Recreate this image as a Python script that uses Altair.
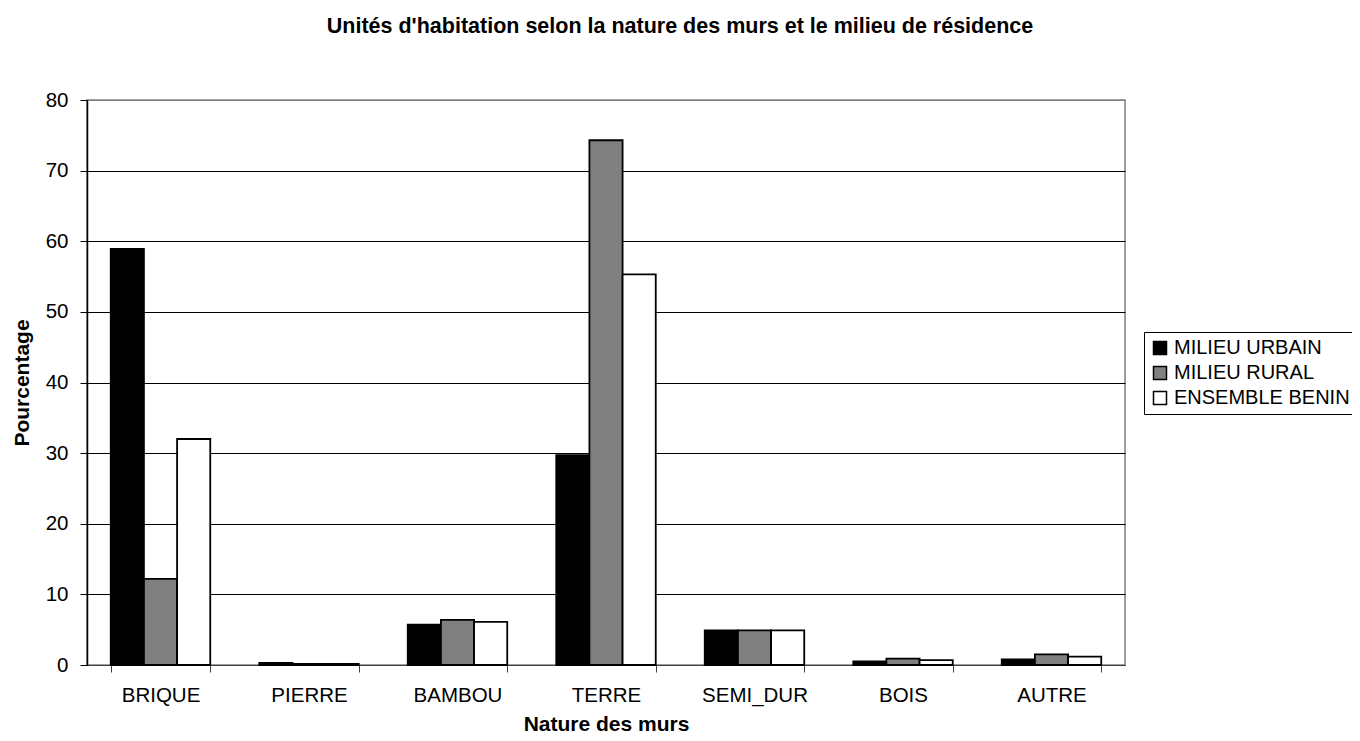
import altair as alt
import pandas as pd

categories = ["BRIQUE", "PIERRE", "BAMBOU", "TERRE", "SEMI_DUR", "BOIS", "AUTRE"]
series = ["MILIEU URBAIN", "MILIEU RURAL", "ENSEMBLE BENIN"]
urbain = [58.9, 0.3, 5.7, 29.7, 4.9, 0.5, 0.8]
rural = [12.2, 0.15, 6.4, 74.3, 4.9, 0.9, 1.5]
ensemble = [32.0, 0.15, 6.1, 55.3, 4.9, 0.7, 1.2]
colors = ["#000000", "#808080", "#ffffff"]
y_ticks = [0, 10, 20, 30, 40, 50, 60, 70, 80]

rows = []
for s, vals in zip(series, [urbain, rural, ensemble]):
    for c, v in zip(categories, vals):
        rows.append({"nature": c, "milieu": s, "pct": v})
df = pd.DataFrame(rows)

FONT = "Liberation Sans"

chart = alt.Chart(df).mark_bar(stroke="black", strokeWidth=1.8).encode(
    x=alt.X(
        "nature:N", sort=categories,
        scale=alt.Scale(paddingInner=0.33, paddingOuter=0.16),
        axis=alt.Axis(
            title="Nature des murs", labelAngle=0, tickBand="extent",
            labelFont=FONT, labelFontSize=20.5, labelColor="black", labelPadding=13,
            tickSize=7, tickColor="#404040", domainColor="#404040", domainWidth=1,
            titleFont=FONT, titleFontSize=21, titleFontWeight="bold", titleColor="black",
            titleY=65, titleBaseline="alphabetic", titleX=519,
        ),
    ),
    xOffset=alt.XOffset("milieu:N", sort=series, scale=alt.Scale(paddingInner=0, paddingOuter=0)),
    y=alt.Y(
        "pct:Q",
        scale=alt.Scale(domain=[0, 80], nice=False),
        axis=alt.Axis(
            title="Pourcentage", values=y_ticks, grid=True,
            gridColor=alt.condition("datum.value == 80", alt.value("#808080"), alt.value("black")),
            gridWidth=1,
            labelFont=FONT, labelFontSize=20.5, labelColor="black", labelPadding=12,
            tickSize=7, tickColor="black", domainColor="black", domainWidth=1.5,
            titleFont=FONT, titleFontSize=21, titleFontWeight="bold", titleColor="black",
            titleX=-59, titleY=282.5, titleBaseline="alphabetic", titleAngle=270,
        ),
    ),
    color=alt.Color(
        "milieu:N", sort=series,
        scale=alt.Scale(domain=series, range=colors),
        legend=alt.Legend(
            title=None, orient="none", legendX=1057, legendY=232,
            strokeColor="black", fillColor="white", padding=6,
            symbolType="square", symbolSize=169, symbolStrokeColor="black", symbolStrokeWidth=1.5,
            labelFont=FONT, labelFontSize=20, labelColor="black", labelOffset=4,
            labelLimit=400, rowPadding=5,
        ),
    ),
).properties(
    width=1038,
    height=565,
    title=alt.Title(
        "Unités d'habitation selon la nature des murs et le milieu de résidence",
        font=FONT, fontSize=21.5, fontWeight="bold", color="black",
        anchor="middle", dx=74, offset=36, baseline="alphabetic",
    ),
    autosize=alt.AutoSizeParams(type="none"),
    padding={"left": 79, "top": 92, "right": 227, "bottom": 68},
).configure_view(stroke="#808080", strokeWidth=1.5)

chart.save("out.html", embed_options={"renderer": "svg", "actions": False})
